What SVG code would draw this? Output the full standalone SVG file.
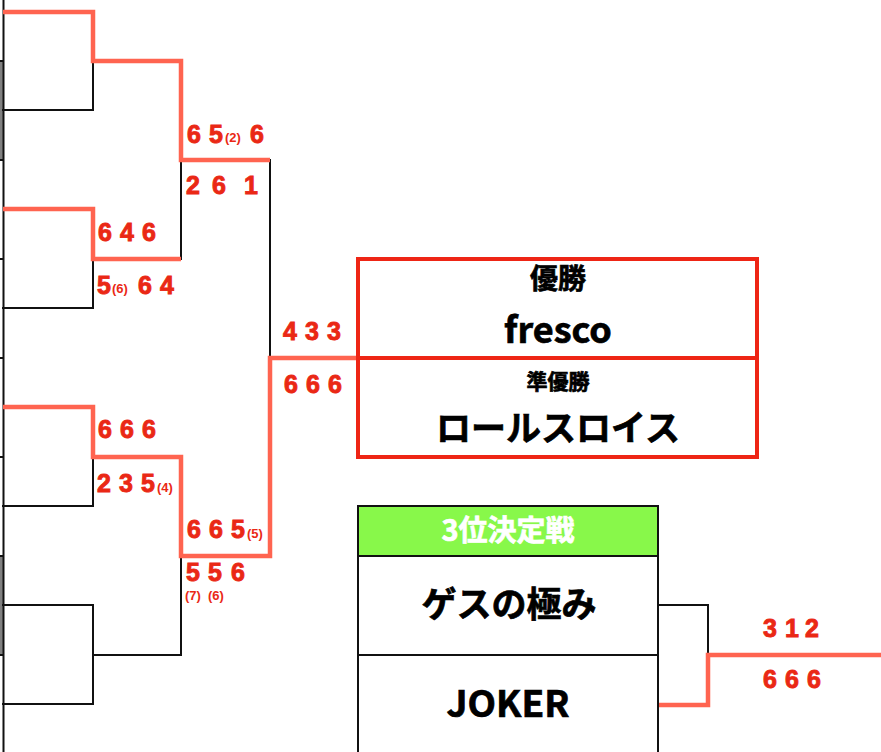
<svg xmlns="http://www.w3.org/2000/svg" width="881" height="752" viewBox="0 0 881 752">
<style>
.bk{fill:none;stroke:#111;stroke-width:2;stroke-linecap:square}
.rd{fill:none;stroke:#ff6450;stroke-width:4.5;stroke-linejoin:miter;stroke-linecap:butt}
.s{font-family:"Liberation Sans",Arial,sans-serif;font-weight:bold;font-size:25px;fill:#ea2815;stroke:#ea2815;stroke-width:0.9}
.p{font-family:"Liberation Sans",Arial,sans-serif;font-weight:bold;font-size:13px;fill:#ea2815}
.t{font-family:"Noto Sans CJK JP","Liberation Sans",sans-serif;font-weight:bold;fill:#000;stroke:#000;stroke-width:0.7;text-anchor:middle}
</style>
<rect width="881" height="752" fill="#fff"/>
<g id="left-edge">
<rect x="0" y="61" width="3" height="99" fill="#808080"/>
<rect x="0" y="556" width="3" height="99" fill="#808080"/>
<path class="bk" d="M3.5,0V752M0,61H3M0,160H3M0,259H3M0,358H3M0,457H3M0,556H3M0,655H3"/>
</g>
<g id="connectors">
<path class="bk" d="M3,110H93V61M3,308H93V259M3,506H93V457M3,605H93V704H3M93,655H181V556M181,160V259M270,160V358M658,605H708V655"/>
<path class="rd" d="M3,12H93V61H181V160H270"/>
<path class="rd" d="M3,209H93V259H181"/>
<path class="rd" d="M3,407H93V457H181V556H270V358H358"/>
<path class="rd" d="M658,705H708V655H881"/>
</g>
<g id="scores">
<text class="s" y="143"><tspan x="187">6</tspan><tspan x="209">5</tspan><tspan x="250">6</tspan></text>
<text class="p" x="225" y="142">(2)</text>
<text class="s" y="194"><tspan x="186">2</tspan><tspan x="212">6</tspan><tspan x="244">1</tspan></text>
<text class="s" y="241"><tspan x="98">6</tspan><tspan x="120">4</tspan><tspan x="142">6</tspan></text>
<text class="s" y="294"><tspan x="97">5</tspan><tspan x="138">6</tspan><tspan x="160">4</tspan></text>
<text class="p" x="112" y="293">(6)</text>
<text class="s" y="340"><tspan x="283">4</tspan><tspan x="305">3</tspan><tspan x="327">3</tspan></text>
<text class="s" y="393"><tspan x="284">6</tspan><tspan x="306">6</tspan><tspan x="328">6</tspan></text>
<text class="s" y="438"><tspan x="98">6</tspan><tspan x="120">6</tspan><tspan x="142">6</tspan></text>
<text class="s" y="492"><tspan x="97">2</tspan><tspan x="119">3</tspan><tspan x="141">5</tspan></text>
<text class="p" x="157" y="492">(4)</text>
<text class="s" y="538"><tspan x="187">6</tspan><tspan x="209">6</tspan><tspan x="231">5</tspan></text>
<text class="p" x="247" y="538">(5)</text>
<text class="s" y="581"><tspan x="186">5</tspan><tspan x="208">5</tspan><tspan x="231">6</tspan></text>
<text class="p" y="600"><tspan x="185">(7)</tspan><tspan x="208">(6)</tspan></text>
<text class="s" y="637"><tspan x="763">3</tspan><tspan x="785">1</tspan><tspan x="805">2</tspan></text>
<text class="s" y="688"><tspan x="763">6</tspan><tspan x="785">6</tspan><tspan x="807">6</tspan></text>
</g>
<g id="final">
<rect x="358" y="259" width="399" height="198" fill="none" stroke="#ee2515" stroke-width="4"/>
<line x1="358" y1="358" x2="757" y2="358" stroke="#ee2515" stroke-width="4"/>
<text class="t" x="558" y="289" font-size="28">優勝</text>
<text class="t" x="558" y="343" font-size="36">fresco</text>
<text class="t" x="558" y="389" font-size="21">準優勝</text>
<text class="t" x="558" y="441" font-size="35">ロールスロイス</text>
</g>
<g id="third-place">
<rect x="358" y="506" width="300" height="50" fill="#88f84a"/>
<path class="bk" d="M358,506H658M358,506V752M658,506V752M358,556H658M358,655H658"/>
<text class="t" x="508" y="541" font-size="29" style="fill:#fff;stroke:#fff">3位決定戦</text>
<text class="t" x="509" y="617" font-size="35">ゲスの極み</text>
<text class="t" x="508" y="717" font-size="37">JOKER</text>
</g>
</svg>
